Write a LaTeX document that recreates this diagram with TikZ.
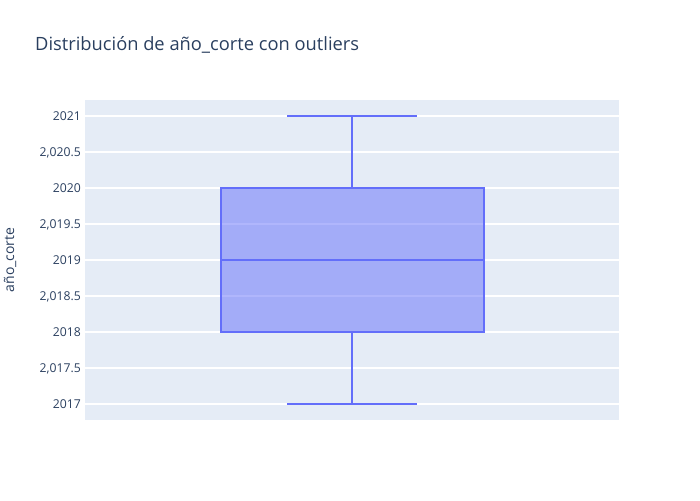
\documentclass[tikz,border=0pt]{standalone}
\usepackage{fontspec}
\setmainfont{Open Sans}
\usepackage{tikz}
\usetikzlibrary{positioning, calc}
\definecolor{plotbg}{HTML}{E5ECF6}
\definecolor{boxblue}{HTML}{636EFA}
\definecolor{labelink}{HTML}{2A3F5F}
\tikzset{
  grid line/.style={white, line width=1.2pt},
  box line/.style={boxblue, line width=2pt},
  tick label/.style={anchor=base east, inner sep=0pt, text=labelink, font=\fontsize{12.2}{14}\selectfont}
}

\begin{document}
\begin{tikzpicture}[x=1pt, y=-1pt]
\useasboundingbox (0,0) rectangle (700,500);
% plot area
\fill[plotbg] (85,100) rectangle (619,420);
\foreach \v/\lab [count=\i from 0] in {2021/2021, 2020.5/{2,020.5}, 2020/2020, 2019.5/{2,019.5}, 2019/2019, 2018.5/{2,018.5}, 2018/2018, 2017.5/{2,017.5}, 2017/2017}
{
    \draw[grid line] (85,116+36*\i) -- (619,116+36*\i);
    \node[tick label] (T\i) at (81,116+36*\i+4.3) {\lab};
}
% box with whiskers
\coordinate (Q1) at (221,332);
\coordinate (Q3) at (484,188);
\coordinate (Hi) at (352,116);
\coordinate (Lo) at (352,404);
\fill[boxblue, fill opacity=0.5] (Q1) rectangle (Q3);
\draw[box line] (Q1) rectangle (Q3);
\draw[box line] (221,260) -- (484,260);
\draw[box line] (Hi) -- (Hi |- Q3);
\draw[box line] (Lo) -- (Lo |- Q1);
\draw[box line] ($(Hi)+(-65,0)$) -- ($(Hi)+(65,0)$);
\draw[box line] ($(Lo)+(-65,0)$) -- ($(Lo)+(65,0)$);
% titles
\node[anchor=base west, inner sep=0pt, text=labelink, font=\fontsize{18.3}{21}\selectfont] (title) at (35,51) {Distribución de año\_corte con outliers};
\node[rotate=90, inner sep=0pt, text=labelink, font=\fontsize{14}{16}\selectfont] (ylab) at (10,260) {año\_corte};
\end{tikzpicture}
\end{document}
